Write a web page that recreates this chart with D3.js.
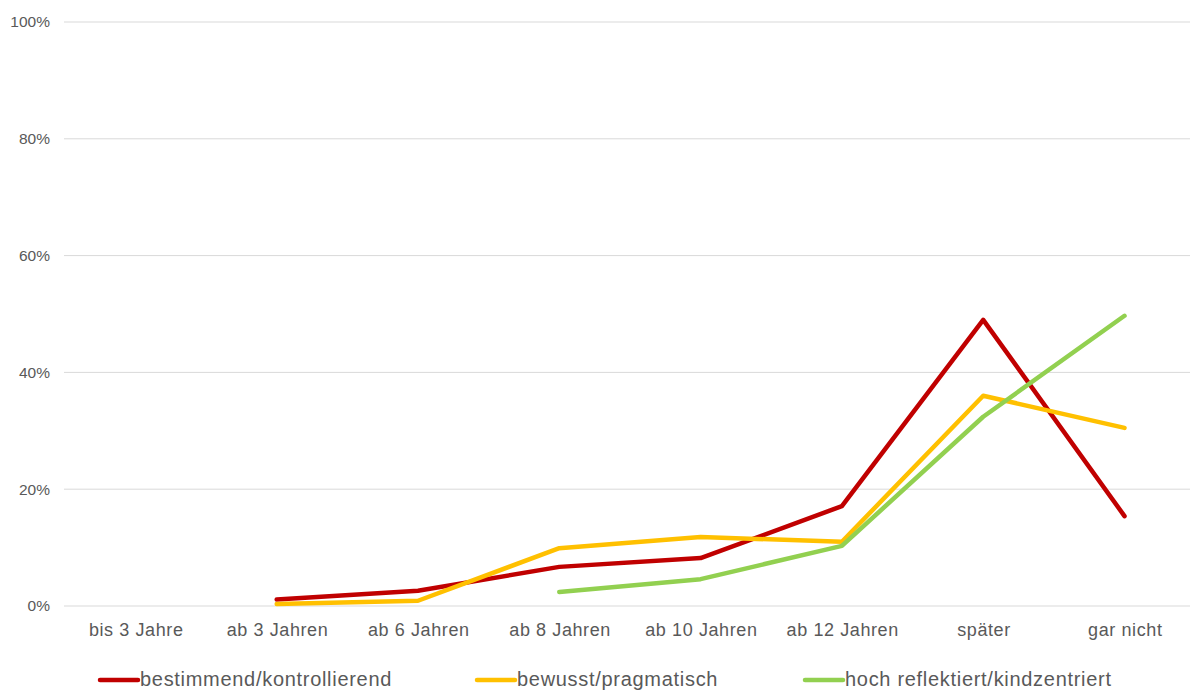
<!DOCTYPE html>
<html><head><meta charset="utf-8">
<script src="https://cdn.jsdelivr.net/npm/d3@7"></script>
<style>body{margin:0;background:#fff;} text{font-family:"Liberation Sans",Arial,sans-serif;}</style>
</head><body><svg id="c" width="1190" height="690"></svg>
<script>
const categories = ["bis 3 Jahre","ab 3 Jahren","ab 6 Jahren","ab 8 Jahren","ab 10 Jahren","ab 12 Jahren","später","gar nicht"];
const seriesNames = ["bestimmend/kontrollierend","bewusst/pragmatisch","hoch reflektiert/kindzentriert"];
const seriesColors = ["#C00000","#FFC000","#92D050"];
const redValues = [null, 1.1, 2.6, 6.7, 8.2, 17.1, 49.0, 15.4];
const yellowValues = [null, 0.35, 0.9, 9.9, 11.8, 11.0, 36.0, 30.5];
const greenValues = [null, null, null, 2.4, 4.6, 10.3, 32.4, 49.7];
const yTicks = [0,20,40,60,80,100];

const svg = d3.select("#c");
const x = d3.scalePoint().domain(categories).range([135.4, 1124.5]);
const y = d3.scaleLinear().domain([0,100]).range([606, 22]);

svg.append("g").selectAll("line").data(yTicks).join("line")
  .attr("x1",64).attr("x2",1190).attr("y1",d=>y(d)).attr("y2",d=>y(d))
  .attr("stroke","#d9d9d9").attr("stroke-width",1);

const yAxis = d3.axisLeft(y).tickValues(yTicks).tickFormat(d=>d+"%").tickSize(0).tickPadding(0);
const gy = svg.append("g").attr("transform","translate(50,0)").call(yAxis);
gy.select(".domain").remove();
gy.selectAll("text").attr("font-size",15.5).attr("fill","#595959").attr("font-family","'Liberation Sans',Arial,sans-serif");

const xAxis = d3.axisBottom(x).tickSize(0).tickPadding(0);
const gx = svg.append("g").attr("transform","translate(0,0)").call(xAxis);
gx.select(".domain").remove();
gx.selectAll("text").attr("y",636).attr("dy",null).attr("dx",0.3).attr("font-size",18).attr("letter-spacing",0.6)
  .attr("fill","#595959").attr("font-family","'Liberation Sans',Arial,sans-serif");

const all = [redValues, yellowValues, greenValues];
const line = d3.line().defined(d=>d.v!==null).x(d=>x(d.c)).y(d=>y(d.v));
all.forEach((vals,i)=>{
  const data = vals.map((v,j)=>({c:categories[j], v}));
  svg.append("path").datum(data).attr("d",line).attr("fill","none")
    .attr("stroke",seriesColors[i]).attr("stroke-width",4.5)
    .attr("stroke-linejoin","round").attr("stroke-linecap","round");
});

const legendX = [100, 477, 805];
const lg = svg.append("g");
seriesNames.forEach((n,i)=>{
  lg.append("line").attr("x1",legendX[i]).attr("x2",legendX[i]+38).attr("y1",680).attr("y2",680)
    .attr("stroke",seriesColors[i]).attr("stroke-width",4.5).attr("stroke-linecap","round");
  lg.append("text").attr("x",legendX[i]+40).attr("y",686).attr("font-size",20).attr("letter-spacing",0.7)
    .attr("fill","#595959").text(n);
});
</script></body></html>
